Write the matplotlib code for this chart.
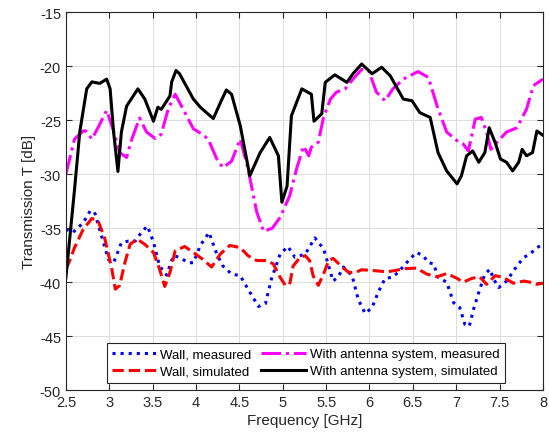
import matplotlib
matplotlib.use("Agg")
import matplotlib.pyplot as plt

# Wall alone, measured
wall_meas_f = [2.50, 2.58, 2.70, 2.78, 2.83, 2.91, 2.99, 3.05, 3.14, 3.22, 3.30, 3.37, 3.44, 3.51,
               3.58, 3.66, 3.74, 3.81, 3.91, 3.97, 4.05, 4.15, 4.24, 4.31, 4.41, 4.51, 4.60, 4.72,
               4.80, 4.87, 4.97, 5.06, 5.14, 5.26, 5.37, 5.47, 5.53, 5.58, 5.64, 5.70, 5.80, 5.87,
               5.95, 6.03, 6.10, 6.18, 6.26, 6.33, 6.45, 6.54, 6.62, 6.68, 6.74, 6.79, 6.89, 6.97,
               7.04, 7.10, 7.15, 7.20, 7.26, 7.33, 7.39, 7.43, 7.49, 7.58, 7.70, 7.78, 7.85, 7.93, 8.00]
wall_meas_t = [-35.1, -35.4, -34.5, -33.4, -33.5, -35.7, -37.9, -38.2, -36.35, -36.2, -36.2, -35.4,
               -34.8, -36.3, -38.5, -39.35, -37.55, -37.7, -38.2, -38.2, -36.6, -35.4, -37.4, -38.5,
               -39.25, -39.4, -40.65, -42.25, -42.0, -39.7, -37.4, -36.7, -37.7, -37.4, -35.9, -36.9,
               -38.5, -39.9, -39.5, -38.6, -39.4, -41.6, -42.9, -42.35, -40.95, -39.65, -39.55, -39.1,
               -38.0, -37.25, -37.55, -38.2, -38.3, -39.55, -40.0, -41.9, -42.35, -43.9, -44.1, -42.5,
               -40.95, -39.25, -38.8, -39.7, -40.5, -39.9, -38.5, -37.7, -37.4, -36.8, -36.5]

# Wall alone, simulated
wall_sim_f = [2.50, 2.54, 2.60, 2.70, 2.80, 2.87, 2.95, 3.03, 3.07, 3.12, 3.18, 3.24, 3.32, 3.41,
              3.51, 3.58, 3.64, 3.70, 3.76, 3.87, 3.97, 4.08, 4.18, 4.28, 4.39, 4.51, 4.60, 4.70,
              4.81, 4.89, 4.97, 5.03, 5.08, 5.12, 5.20, 5.26, 5.31, 5.35, 5.41, 5.47, 5.53, 5.58,
              5.68, 5.76, 5.84, 5.91, 6.08, 6.20, 6.31, 6.39, 6.54, 6.66, 6.78, 6.89, 7.01, 7.08,
              7.18, 7.27, 7.35, 7.45, 7.54, 7.66, 7.78, 7.85, 7.93, 8.00]
wall_sim_t = [-38.8, -38.1, -36.8, -35.1, -34.1, -34.3, -36.0, -38.8, -40.65, -40.3, -38.2, -36.5,
              -36.0, -36.5, -37.25, -38.8, -40.4, -39.1, -37.1, -36.7, -37.25, -37.9, -38.6, -37.4,
              -36.6, -36.8, -37.55, -38.0, -38.0, -38.3, -39.55, -40.3, -40.2, -38.5, -37.7, -37.55,
              -38.0, -39.4, -40.3, -39.25, -38.0, -37.8, -38.55, -39.1, -39.1, -38.85, -38.95, -39.05,
              -38.9, -38.75, -38.7, -39.25, -39.5, -39.2, -39.65, -40.0, -39.65, -39.5, -40.2, -39.4,
              -39.55, -40.1, -39.9, -40.0, -40.2, -40.1]

# Wall with antenna system, measured
ant_meas_f = [2.50, 2.60, 2.70, 2.73, 2.80, 2.87, 2.97, 3.05, 3.12, 3.20, 3.26, 3.35, 3.43, 3.53,
              3.60, 3.68, 3.76, 3.85, 3.97, 4.07, 4.14, 4.24, 4.31, 4.41, 4.51, 4.60, 4.70, 4.78,
              4.88, 4.97, 5.08, 5.16, 5.24, 5.30, 5.33, 5.41, 5.47, 5.55, 5.62, 5.72, 5.81, 5.91,
              5.99, 6.08, 6.18, 6.27, 6.39, 6.56, 6.68, 6.78, 6.89, 7.01, 7.08, 7.14, 7.22, 7.29,
              7.35, 7.40, 7.47, 7.58, 7.70, 7.81, 7.89, 8.00]
ant_meas_t = [-30.0, -26.75, -26.0, -26.0, -26.75, -25.7, -24.1, -26.0, -28.0, -28.45, -26.75, -24.8,
              -26.1, -26.7, -26.3, -23.95, -22.6, -23.95, -25.8, -26.3, -26.75, -28.6, -29.4, -28.8,
              -26.75, -29.5, -33.5, -35.3, -35.0, -34.0, -32.0, -29.5, -27.4, -28.3, -27.5, -27.05,
              -24.75, -23.05, -22.4, -22.1, -21.2, -20.3, -20.4, -22.4, -23.2, -22.1, -21.2, -20.5,
              -21.05, -23.7, -26.1, -26.9, -27.2, -27.85, -24.9, -24.75, -26.1, -27.7, -27.05, -26.1,
              -25.7, -24.0, -21.8, -21.2]

# Wall with antenna system, simulated
ant_sim_f = [2.50, 2.60, 2.66, 2.74, 2.80, 2.89, 2.97, 3.01, 3.05, 3.10, 3.14, 3.20, 3.33, 3.41,
             3.51, 3.56, 3.60, 3.70, 3.72, 3.77, 3.81, 3.97, 4.05, 4.12, 4.20, 4.28, 4.35, 4.41,
             4.51, 4.62, 4.74, 4.85, 4.95, 4.99, 5.05, 5.10, 5.22, 5.33, 5.36, 5.45, 5.49, 5.60,
             5.74, 5.81, 5.91, 6.03, 6.14, 6.24, 6.39, 6.49, 6.58, 6.70, 6.79, 6.89, 7.01, 7.06,
             7.12, 7.19, 7.26, 7.33, 7.38, 7.45, 7.51, 7.58, 7.65, 7.72, 7.76, 7.81, 7.88, 7.93, 8.00]
ant_sim_t = [-39.6, -31.4, -26.1, -22.1, -21.45, -21.6, -21.2, -22.1, -26.1, -29.75, -26.1, -23.7,
             -22.1, -23.05, -25.1, -23.8, -24.0, -22.75, -21.45, -20.4, -20.7, -23.05, -23.8, -24.3,
             -24.85, -23.4, -22.2, -22.6, -25.5, -30.15, -28.0, -26.6, -28.3, -32.6, -31.1, -24.6,
             -22.1, -22.6, -25.1, -24.4, -21.5, -20.8, -21.5, -20.7, -19.8, -20.7, -20.1, -20.9,
             -23.05, -23.2, -24.3, -24.75, -28.0, -29.7, -30.9, -30.15, -28.3, -27.85, -28.9, -28.0,
             -25.7, -27.1, -28.6, -28.9, -29.7, -28.9, -27.7, -28.3, -28.0, -26.0, -26.4]

x_ticks = [2.5, 3, 3.5, 4, 4.5, 5, 5.5, 6, 6.5, 7, 7.5, 8]
y_ticks = [-50, -45, -40, -35, -30, -25, -20, -15]

AX_COLOR = "#262626"

plt.rcParams["font.family"] = ["Liberation Sans", "DejaVu Sans"]

fig = plt.figure(figsize=(5.49, 4.39), dpi=100)
ax = fig.add_axes([0.120, 0.109, 0.869, 0.861])

line_kw = dict(linewidth=2.2, solid_joinstyle="round", dash_joinstyle="round")
ax.plot(wall_meas_f, wall_meas_t, color="#0000ff", linestyle=":", label="Wall, measured", **line_kw)
ax.plot(ant_meas_f, ant_meas_t, color="#ff00ff", linestyle="-.",
        label="With antenna system, measured", **line_kw)
ax.plot(wall_sim_f, wall_sim_t, color="#ff0000", linestyle="--", label="Wall, simulated", **line_kw)
ax.plot(ant_sim_f, ant_sim_t, color="black", linestyle="-",
        label="With antenna system, simulated", **line_kw)

ax.set_xlim(2.5, 8)
ax.set_ylim(-50, -15)
ax.set_xticks(x_ticks)
ax.set_xticklabels([f"{v:g}" for v in x_ticks])
ax.set_yticks(y_ticks)
ax.set_yticklabels([f"{v:g}" for v in y_ticks])
ax.tick_params(direction="in", top=True, right=True, colors=AX_COLOR,
               labelsize=10.5, length=4, width=0.8)
for sp in ax.spines.values():
    sp.set_color(AX_COLOR)
    sp.set_linewidth(0.8)
ax.grid(True, color="#dcdcdc", linewidth=0.7)
ax.set_axisbelow(True)

ax.set_xlabel("Frequency [GHz]", fontsize=11, color=AX_COLOR, labelpad=3)
ax.set_ylabel("Transmission T [dB]", fontsize=11, color=AX_COLOR, labelpad=3)

# order handles so the legend fills row by row
handles, labels = ax.get_legend_handles_labels()
order = [0, 2, 1, 3]
leg = ax.legend([handles[i] for i in order], [labels[i] for i in order], ncol=2,
                loc="lower left", bbox_to_anchor=(0.086, 0.02), fontsize=9.5,
                frameon=True, fancybox=False, edgecolor=AX_COLOR, framealpha=1,
                handlelength=3.4, handletextpad=0.25, columnspacing=0.75,
                borderpad=0.4, labelspacing=0.35, borderaxespad=0)
leg.get_frame().set_linewidth(0.8)

fig.savefig("out.png", dpi=100)
